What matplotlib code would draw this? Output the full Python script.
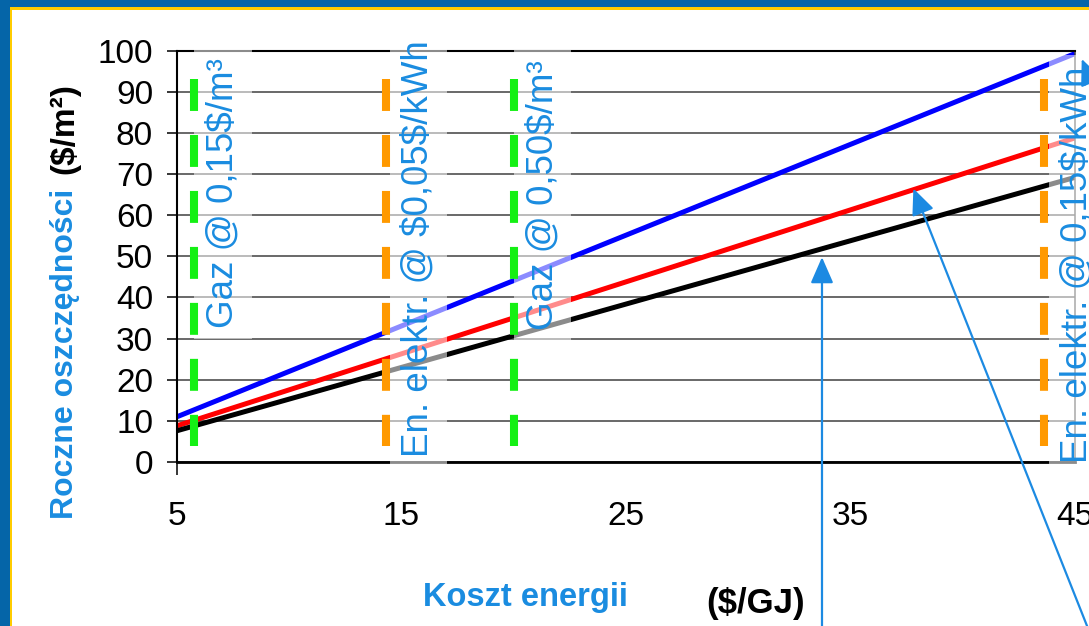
import matplotlib
matplotlib.use('Agg')
import matplotlib.pyplot as plt
from matplotlib.patches import Rectangle

plt.rcParams['font.family'] = ['Liberation Sans', 'DejaVu Sans']
plt.rcParams['lines.scale_dashes'] = False

# energy cost ($/GJ) and yearly savings ($/m2) for the three cases
cost = [5, 45]
savings_blue = [11.0, 99.3]
savings_red = [8.8, 78.8]
savings_black = [7.6, 69.2]

# price markers (vertical dashed lines)
gas_price_x = [5.75, 20.0]
elec_price_x = [14.3, 43.6]
marker_y = [93.2, 3.9]

# rotated price labels
label_x = [7.05, 15.75, 21.3, 45.1]
label_y = [32.5, 1.2, 32.0, -0.2]
label_text = ['Gaz @ 0,15$/m³', 'En. elektr. @ $0,05$/kWh',
              'Gaz @ 0,50$/m³', 'En. elektr. @ 0,15$/kWh']

yticks = list(range(0, 101, 10))
xticks = [5, 15, 25, 35, 45]

W, H = 1089, 626
blue_txt = '#1A8CE0'
arrow_c = '#1C8AE2'

fig = plt.figure(figsize=(W / 100, H / 100), dpi=100)
fig.patch.set_facecolor('white')

# frame of the slide
fig.add_artist(Rectangle((0, 0), 10 / W, 1, transform=fig.transFigure, color='#0565A8', lw=0))
fig.add_artist(Rectangle((0, 619 / H), 1, 7 / H, transform=fig.transFigure, color='#0565A8', lw=0))
fig.add_artist(Rectangle((10 / W, 0), 2 / W, 619 / H, transform=fig.transFigure, color='#FFCC00', lw=0))
fig.add_artist(Rectangle((10 / W, 616.5 / H), 1, 2.5 / H, transform=fig.transFigure, color='#FFCC00', lw=0))

ax = fig.add_axes([177 / W, 164 / H, 898 / W, 411.3 / H])
ax.set_xlim(5, 45)
ax.set_ylim(0, 100)
ax.set_xticks(xticks)
ax.set_yticks(yticks)
ax.yaxis.grid(True, color='#404040', lw=1.1)
ax.set_axisbelow(True)

ax.plot(cost, savings_blue, color='#0000FF', lw=3.6, zorder=2, solid_capstyle='butt')
ax.plot(cost, savings_red, color='#FF0000', lw=3.6, zorder=2, solid_capstyle='butt')
ax.plot(cost, savings_black, color='black', lw=3.6, zorder=2, solid_capstyle='butt')

for x in gas_price_x:
    ax.plot([x, x], marker_y, color='#14F014', lw=5.8, dashes=(23, 17.3), zorder=4)
for x in elec_price_x:
    ax.plot([x, x], marker_y, color='#FF9900', lw=5.8, dashes=(23, 17.3), zorder=4)

for x, y, s in zip(label_x, label_y, label_text):
    ax.text(x, y, s, rotation=90, ha='center', va='bottom', fontsize=26.5,
            color=blue_txt, parse_math=False, zorder=3,
            bbox=dict(boxstyle='square,pad=0.3', fc='white', ec='none', alpha=0.55))

ax.tick_params(axis='y', length=7.2, width=1.1, pad=10, labelsize=24)
ax.tick_params(axis='x', length=9.4, width=1.1, pad=19, labelsize=24)
for t in ax.xaxis.get_major_ticks()[1:]:
    t.tick1line.set_visible(False)

ax.spines['top'].set_linewidth(1.5)
ax.spines['left'].set_linewidth(1.5)
ax.spines['bottom'].set_linewidth(2)
ax.spines['right'].set_linewidth(1.1)
ax.spines['right'].set_color('#404040')

# pointer arrows
ap = dict(arrowstyle='-|>,head_length=0.8,head_width=0.35', color=arrow_c, lw=1.6,
          mutation_scale=20, shrinkA=0, shrinkB=0)
ax.annotate('', xy=(33.73, 49.8), xytext=(822 / W, -0.05), textcoords='figure fraction',
            arrowprops=ap, annotation_clip=False, zorder=5)
ax.annotate('', xy=(37.8, 66.5), xytext=(1095 / W, -20 / H), textcoords='figure fraction',
            arrowprops=ap, annotation_clip=False, zorder=5)
ax.annotate('', xy=(45.3, 98.0), xytext=(1140 / W, (H - 200) / H), textcoords='figure fraction',
            arrowprops=ap, annotation_clip=False, zorder=5)

# axis titles (two colours each)
fig.text(65 / W, (H - 519) / H, 'Roczne oszczędności', rotation=90, ha='center', va='bottom',
         fontsize=23, fontweight='bold', color=blue_txt)
fig.text(65 / W, (H - 174) / H, '($/m²)', rotation=90, ha='center', va='bottom',
         fontsize=24, fontweight='bold', color='black')
fig.text(423 / W, (H - 606) / H, 'Koszt energii', ha='left', va='baseline',
         fontsize=23.5, fontweight='bold', color=blue_txt)
fig.text(706 / W, (H - 613) / H, '($/GJ)', ha='left', va='baseline',
         fontsize=25, fontweight='bold', color='black')

fig.savefig('out.png', dpi=100)
